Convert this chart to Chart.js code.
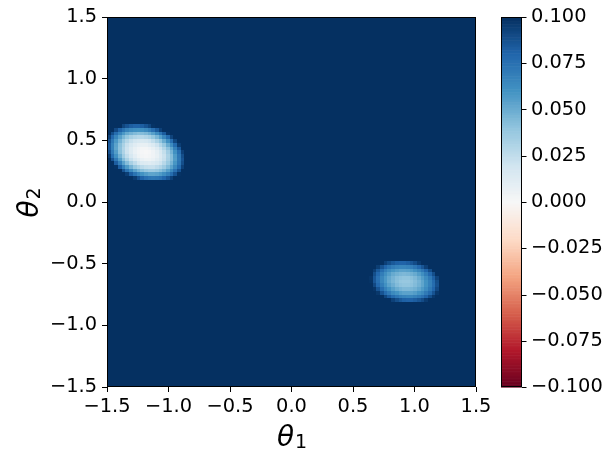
<!DOCTYPE html>
<html>
<head>
<meta charset="utf-8">
<script src="https://cdn.jsdelivr.net/npm/chart.js@4.4.0/dist/chart.umd.min.js"></script>
<style>
  html, body { margin: 0; padding: 0; background: #fff; }
  canvas { display: block; }
</style>
</head>
<body>
<canvas id="heatChart" width="616" height="463"></canvas>
<script>
// Grid + colour range
const GRID_N = 100;
const AXIS_MIN = -1.5;
const AXIS_MAX = 1.5;
const V_MIN = -0.1;
const V_MAX = 0.1;
const BACKGROUND_VALUE = 0.1; // everything outside the two dips sits at (or above) vmax

const axisTicks = [-1.5, -1.0, -0.5, 0.0, 0.5, 1.0, 1.5];
const colorbarTicks = [-0.1, -0.075, -0.05, -0.025, 0, 0.025, 0.05, 0.075, 0.1];

// Dip near (-1.2, 0.4): grid row (from the top), first column of the row, values in 1/1000
const westRows = [29, 30, 31, 32, 33, 34, 35, 36, 37, 38, 39, 40, 41, 42, 43];
const westFirstCol = [4, 2, 1, 0, 0, 0, 0, 0, 0, 1, 2, 2, 4, 5, 7];
const westValues = [
	[92, 87, 83, 81, 81, 83, 87, 92, 99],
	[91, 81, 74, 67, 63, 61, 60, 61, 64, 69, 76, 84, 94],
	[89, 77, 67, 58, 51, 47, 44, 42, 43, 45, 49, 55, 63, 73, 84, 98],
	[93, 79, 66, 55, 46, 39, 33, 30, 28, 28, 30, 33, 39, 46, 55, 66, 78, 93],
	[87, 72, 58, 47, 37, 29, 23, 19, 17, 16, 17, 20, 25, 32, 40, 50, 62, 76, 92],
	[84, 68, 54, 42, 32, 23, 17, 12, 9, 8, 8, 11, 15, 21, 29, 38, 50, 63, 78, 95],
	[84, 68, 53, 41, 30, 21, 13, 8, 4, 2, 2, 4, 8, 13, 21, 30, 41, 53, 68, 84],
	[88, 71, 56, 42, 31, 21, 13, 7, 3, 1, 0, 1, 4, 9, 16, 24, 35, 47, 61, 76, 94],
	[95, 77, 61, 48, 35, 25, 17, 10, 5, 2, 1, 2, 4, 8, 14, 22, 32, 43, 57, 72, 89],
	[87, 71, 56, 43, 32, 23, 16, 11, 7, 5, 5, 7, 11, 16, 23, 33, 43, 56, 71, 87],
	[83, 68, 54, 43, 33, 26, 19, 15, 13, 12, 14, 17, 21, 28, 37, 47, 59, 73, 89],
	[99, 83, 69, 57, 47, 38, 32, 27, 24, 23, 23, 26, 30, 36, 44, 54, 65, 78, 94],
	[87, 74, 63, 54, 47, 42, 38, 36, 36, 38, 42, 47, 55, 64, 75, 87],
	[95, 83, 74, 66, 60, 56, 53, 53, 54, 57, 62, 68, 77, 87, 99],
	[96, 88, 81, 76, 73, 72, 73, 75, 80, 86, 94]
];

// Dip near (0.95, -0.65)
const eastRows = [66, 67, 68, 69, 70, 71, 72, 73, 74, 75, 76];
const eastFirstCol = [75, 73, 72, 72, 71, 71, 72, 72, 73, 75, 77];
const eastValues = [
	[94, 89, 85, 82, 81, 81, 83, 86, 90, 96],
	[95, 87, 80, 74, 70, 67, 66, 66, 67, 69, 73, 79, 86, 94],
	[95, 85, 77, 69, 63, 59, 56, 54, 54, 55, 57, 61, 66, 72, 80, 89],
	[89, 79, 70, 62, 56, 51, 48, 46, 45, 46, 48, 51, 56, 62, 70, 79, 89],
	[98, 86, 75, 66, 58, 52, 47, 43, 41, 40, 40, 42, 45, 50, 56, 63, 71, 82, 93],
	[99, 86, 76, 66, 58, 51, 46, 42, 39, 38, 38, 40, 43, 47, 53, 60, 68, 78, 89],
	[91, 79, 70, 61, 54, 49, 44, 41, 40, 40, 41, 44, 48, 53, 60, 68, 77, 88],
	[98, 87, 77, 68, 61, 55, 50, 47, 45, 45, 46, 48, 52, 57, 63, 71, 80, 91],
	[97, 87, 78, 71, 64, 60, 56, 54, 54, 54, 56, 60, 64, 71, 78, 87, 97],
	[92, 84, 78, 73, 69, 67, 66, 66, 68, 71, 75, 81, 89, 97],
	[94, 89, 85, 82, 81, 81, 83, 86, 90, 96]
];

// matplotlib RdBu stops
const RDBU = [
	[103, 0, 31], [178, 24, 43], [214, 96, 77], [244, 165, 130], [253, 219, 199],
	[247, 247, 247], [209, 229, 240], [146, 197, 222], [67, 147, 195], [33, 102, 172], [5, 48, 97]
];

const FONT = '"DejaVu Sans", "Liberation Sans", sans-serif';

function rdbu(v) {
	let t = (v - V_MIN) / (V_MAX - V_MIN);
	t = Math.max(0, Math.min(1, t)) * (RDBU.length - 1);
	const i = Math.min(Math.floor(t), RDBU.length - 2);
	const f = t - i;
	const a = RDBU[i], b = RDBU[i + 1];
	return `rgb(${Math.round(a[0] + (b[0] - a[0]) * f)},${Math.round(a[1] + (b[1] - a[1]) * f)},${Math.round(a[2] + (b[2] - a[2]) * f)})`;
}

// cell lookup: key = row * GRID_N + col
const cells = new Map();
function addBlob(rows, firstCols, values) {
	rows.forEach((r, k) => {
		values[k].forEach((n, j) => cells.set(r * GRID_N + firstCols[k] + j, n / 1000));
	});
}
addBlob(westRows, westFirstCol, westValues);
addBlob(eastRows, eastFirstCol, eastValues);

const fmt = (v, d) => {
	const s = Math.abs(v).toFixed(d);
	return (v < -1e-9 ? '\u2212' : '') + s;
};

const heatmapPlugin = {
	id: 'heatmap',
	beforeDatasetsDraw(chart) {
		const { ctx, scales: { x, y } } = chart;
		const step = (AXIS_MAX - AXIS_MIN) / GRID_N;
		ctx.save();
		for (let r = 0; r < GRID_N; r++) {
			const yTop = Math.round(y.getPixelForValue(AXIS_MAX - r * step));
			const yBot = Math.round(y.getPixelForValue(AXIS_MAX - (r + 1) * step));
			for (let c = 0; c < GRID_N; c++) {
				const xl = Math.round(x.getPixelForValue(AXIS_MIN + c * step));
				const xr = Math.round(x.getPixelForValue(AXIS_MIN + (c + 1) * step));
				const key = r * GRID_N + c;
				const v = cells.has(key) ? cells.get(key) : BACKGROUND_VALUE;
				ctx.fillStyle = rdbu(v);
				ctx.fillRect(xl, yTop, xr - xl, yBot - yTop);
			}
		}
		ctx.restore();
	},
	afterDraw(chart) {
		const { ctx, chartArea: area, scales: { cb } } = chart;
		ctx.save();

		// plot frame
		ctx.strokeStyle = '#000';
		ctx.lineWidth = 1;
		ctx.strokeRect(area.left + 0.5, area.top + 0.5, area.right - area.left - 1, area.bottom - area.top - 1);

		// colorbar
		const cbLeft = area.right + 25;
		const cbWidth = 20;
		const strips = 256;
		for (let k = 0; k < strips; k++) {
			const v0 = V_MIN + (V_MAX - V_MIN) * k / strips;
			const v1 = V_MIN + (V_MAX - V_MIN) * (k + 1) / strips;
			const p0 = cb.getPixelForValue(v0);
			const p1 = cb.getPixelForValue(v1);
			ctx.fillStyle = rdbu((v0 + v1) / 2);
			ctx.fillRect(cbLeft, p1, cbWidth, p0 - p1 + 0.6);
		}
		ctx.strokeRect(cbLeft + 0.5, area.top + 0.5, cbWidth, area.bottom - area.top - 1);
		ctx.beginPath();
		colorbarTicks.forEach(v => {
			const p = Math.round(cb.getPixelForValue(v)) + 0.5;
			ctx.moveTo(cbLeft + cbWidth + 0.5, p);
			ctx.lineTo(cbLeft + cbWidth + 5.5, p);
		});
		ctx.stroke();

		// axis titles (theta with upright subscript)
		ctx.fillStyle = '#000';
		ctx.textBaseline = 'alphabetic';
		const drawTitle = (sub) => {
			ctx.font = `italic 28px ${FONT}`;
			const w1 = ctx.measureText('\u03b8').width;
			ctx.font = `19px ${FONT}`;
			const w2 = ctx.measureText(sub).width;
			const start = -(w1 + w2) / 2;
			ctx.font = `italic 28px ${FONT}`;
			ctx.fillText('\u03b8', start, 0);
			ctx.font = `19px ${FONT}`;
			ctx.fillText(sub, start + w1 + 1, 2);
		};
		ctx.save();
		ctx.translate((area.left + area.right) / 2, 446);
		drawTitle('1');
		ctx.restore();
		ctx.save();
		ctx.translate(38, (area.top + area.bottom) / 2 + 1);
		ctx.rotate(-Math.PI / 2);
		drawTitle('2');
		ctx.restore();

		ctx.restore();
	}
};

const tickFont = { family: FONT, size: 19.4 };

new Chart(document.getElementById('heatChart'), {
	type: 'scatter',
	data: { datasets: [{ data: [], pointRadius: 0 }] },
	options: {
		responsive: false,
		animation: false,
		devicePixelRatio: 1,
		layout: { padding: { top: 17, left: 0, right: 0, bottom: 0 } },
		plugins: { legend: { display: false }, tooltip: { enabled: false } },
		scales: {
			x: {
				type: 'linear', position: 'bottom', min: AXIS_MIN, max: AXIS_MAX,
				afterBuildTicks: s => { s.ticks = axisTicks.map(value => ({ value })); },
				afterFit: s => { s.height = 76; },
				ticks: { color: '#000', font: tickFont, padding: 3, maxRotation: 0, autoSkip: false, callback: v => fmt(v, 1) },
				grid: { drawOnChartArea: false, drawTicks: true, tickLength: 5, tickColor: '#000', tickWidth: 1 },
				border: { display: false }
			},
			y: {
				type: 'linear', position: 'left', min: AXIS_MIN, max: AXIS_MAX,
				afterBuildTicks: s => { s.ticks = axisTicks.map(value => ({ value })); },
				afterFit: s => { s.width = 107; },
				ticks: { color: '#000', font: tickFont, padding: 5, autoSkip: false, callback: v => fmt(v, 1) },
				grid: { drawOnChartArea: false, drawTicks: true, tickLength: 5, tickColor: '#000', tickWidth: 1 },
				border: { display: false }
			},
			cb: {
				axis: 'y', type: 'linear', position: 'right', min: V_MIN, max: V_MAX,
				afterBuildTicks: s => { s.ticks = colorbarTicks.map(value => ({ value })); },
				afterFit: s => { s.width = 140; },
				ticks: { color: '#000', font: tickFont, padding: 5, autoSkip: false, callback: v => fmt(v, 3) },
				grid: { drawOnChartArea: false, drawTicks: true, tickLength: 50, tickColor: 'rgba(0,0,0,0)' },
				border: { display: false }
			}
		}
	},
	plugins: [heatmapPlugin]
});
</script>
</body>
</html>
